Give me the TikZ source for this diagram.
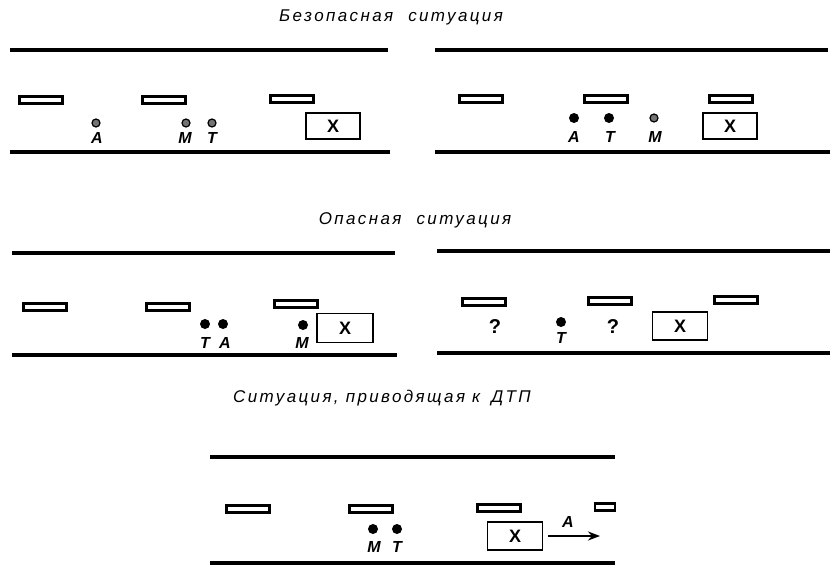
\documentclass[tikz,border=0pt]{standalone}
\usepackage{fontspec}
\setmainfont{Liberation Sans}
\newfontfamily\titlefont[LetterSpace=14]{Liberation Sans}
\usetikzlibrary{arrows.meta}

\begin{document}
\begin{tikzpicture}[x=1pt, y=-1pt]
  \tikzstyle{road} = [line width=3.4pt]
  \tikzstyle{lanemark} = [rectangle, draw, line width=2.2pt, minimum width=43pt, minimum height=7pt, inner sep=0pt]
  \tikzstyle{obstacle} = [rectangle, draw, line width=1.9pt, minimum width=54pt, minimum height=26pt, inner sep=0pt, font=\bfseries\fontsize{18}{18}\selectfont]
  \tikzstyle{car} = [circle, fill=black, inner sep=0pt, minimum size=10pt]
  \tikzstyle{carfar} = [circle, draw, fill=black!55, line width=1.2pt, inner sep=0pt, minimum size=8pt]
  \tikzstyle{tag} = [inner sep=0pt, font=\bfseries\itshape\fontsize{16}{16}\selectfont]
  \tikzstyle{quest} = [inner sep=0pt, font=\bfseries\fontsize{20}{20}\selectfont]
  \tikzstyle{title} = [inner sep=0pt, font=\titlefont\itshape\fontsize{17}{17}\selectfont]
  \tikzstyle{arrow} = [line width=2pt,-{Stealth[length=12pt,width=9pt]}]

  \useasboundingbox (0,0) rectangle (830,565);

  % Titles
  \node [title] (tsafe) at (391,17) {Безопасная\hspace{8pt} ситуация};
  \node [title] (tdanger) at (415,220) {Опасная\hspace{8pt} ситуация};
  \node [title] (tcrash) at (382,398) {Ситуация, приводящая к\hspace{4pt} ДТП};

  % Panel 1: safe, left
  \draw [road] (10,50) -- (388,50);
  \draw [road] (10,152) -- (390,152);
  \node [lanemark] (s1m1) at (41,100) {};
  \node [lanemark] (s1m2) at (164,100) {};
  \node [lanemark] (s1m3) at (292,99) {};
  \node [carfar] (s1a) at (96,123) {};
  \node [carfar] (s1m) at (186,123) {};
  \node [carfar] (s1t) at (212,123) {};
  \node [tag] (s1la) at (97,138) {A};
  \node [tag] (s1lm) at (185,138) {M};
  \node [tag] (s1lt) at (212,138) {T};
  \node [obstacle] (s1x) at (333,126) {X};

  % Panel 2: safe, right
  \draw [road] (435,50) -- (828,50);
  \draw [road] (435,152) -- (830,152);
  \node [lanemark] (s2m1) at (481,99) {};
  \node [lanemark] (s2m2) at (606,99) {};
  \node [lanemark] (s2m3) at (731,99) {};
  \node [car] (s2a) at (574,118) {};
  \node [car] (s2t) at (609,118) {};
  \node [carfar] (s2m) at (654,118) {};
  \node [tag] (s2la) at (574,137) {A};
  \node [tag] (s2lt) at (610,137) {T};
  \node [tag] (s2lm) at (655,137) {M};
  \node [obstacle] (s2x) at (730,126) {X};

  % Panel 3: dangerous, left
  \draw [road] (12,253) -- (395,253);
  \draw [road] (12,355) -- (397,355);
  \node [lanemark] (d1m1) at (45,307) {};
  \node [lanemark] (d1m2) at (168,307) {};
  \node [lanemark] (d1m3) at (296,304) {};
  \node [car] (d1t) at (205,324) {};
  \node [car] (d1a) at (223,324) {};
  \node [car] (d1m) at (303,325) {};
  \node [tag] (d1lt) at (205,343) {T};
  \node [tag] (d1la) at (225,343) {A};
  \node [tag] (d1lm) at (302,343) {M};
  \node [obstacle, minimum width=56pt, minimum height=29pt] (d1x) at (345,328) {X};

  % Panel 4: dangerous, right
  \draw [road] (437,251) -- (830,251);
  \draw [road] (437,353) -- (830,353);
  \node [lanemark] (d2m1) at (484,302) {};
  \node [lanemark] (d2m2) at (610,301) {};
  \node [lanemark] (d2m3) at (736,300) {};
  \node [quest] (d2q1) at (495,327) {?};
  \node [car] (d2t) at (561,322) {};
  \node [tag] (d2lt) at (561,338) {T};
  \node [quest] (d2q2) at (613,327) {?};
  \node [obstacle, minimum width=55pt, minimum height=28pt] (d2x) at (680,326) {X};

  % Panel 5: leading to a crash
  \draw [road] (210,457) -- (615,457);
  \draw [road] (210,563) -- (615,563);
  \node [lanemark] (c1m1) at (248,509) {};
  \node [lanemark] (c1m2) at (371,509) {};
  \node [lanemark] (c1m3) at (499,508) {};
  \node [lanemark, minimum width=20pt] (c1m4) at (605,507) {};
  \node [car] (c1m) at (373,529) {};
  \node [car] (c1t) at (397,529) {};
  \node [tag] (c1lm) at (374,547) {M};
  \node [tag] (c1lt) at (397,547) {T};
  \node [obstacle, minimum width=55pt, minimum height=28pt] (c1x) at (515,536) {X};
  \coordinate (c1end) at (600,536);
  \draw [arrow] (c1x.east) ++(5,0) -- (c1end);
  \node [tag] (c1la) at (568,522) {A};

\end{tikzpicture}
\end{document}
